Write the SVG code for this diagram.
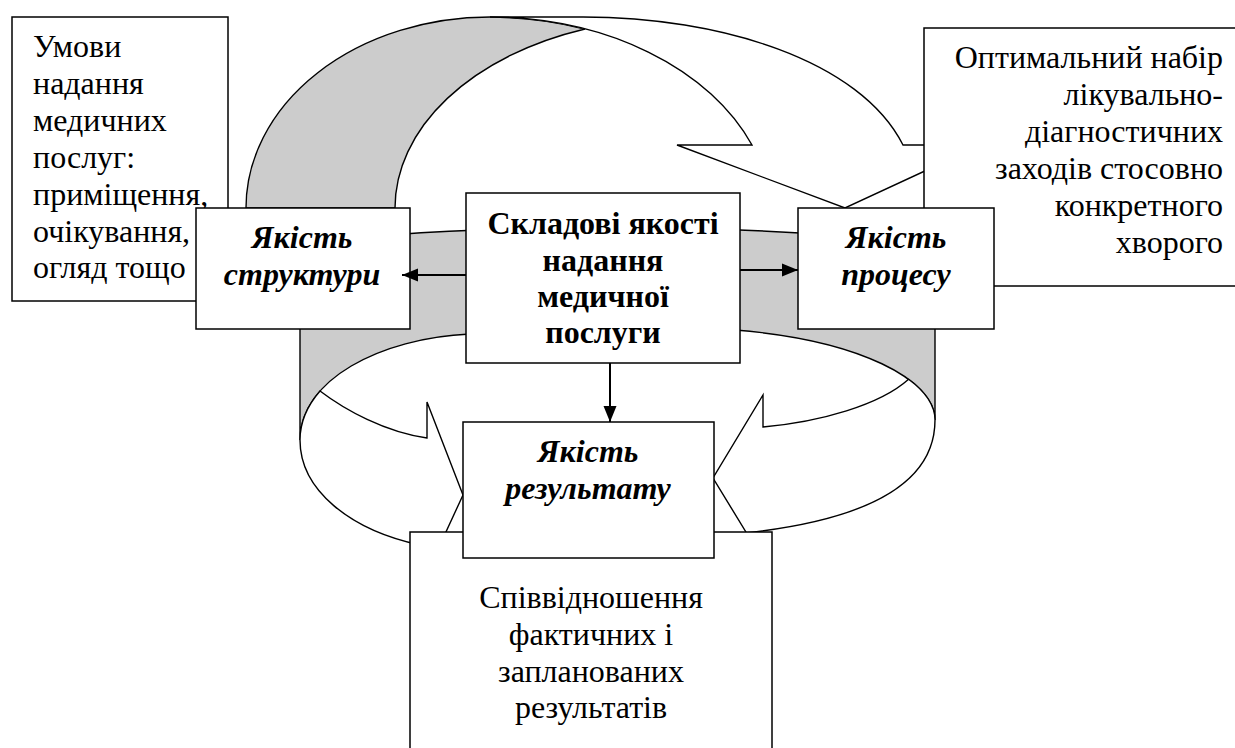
<svg xmlns="http://www.w3.org/2000/svg" width="1235" height="748" viewBox="0 0 1235 748">
<style>
.bg{fill:#fff}
.box{fill:#fff;stroke:#000;stroke-width:1.5}
.sh{stroke:#000;stroke-width:1.4;stroke-linejoin:miter}
.gray{fill:#cccccc}
.white{fill:#fff}
text{font-size:32px;fill:#000}
.c{text-anchor:middle}
.e{text-anchor:end}
.b{font-weight:bold}
.bi{font-weight:bold;font-style:italic}
.conn{stroke:#000;stroke-width:2;fill:none}
</style>
<defs>
<marker id="ah" markerUnits="userSpaceOnUse" markerWidth="16" markerHeight="14" refX="16" refY="7" orient="auto">
<path d="M0,0.5 L16,7 L0,13.5 Z" fill="#000"/>
</marker>
</defs>
<rect class="bg" x="0" y="0" width="1235" height="748"/>

<g id="ring-arrows">
<path class="sh gray" d="M300,440 L300,245 C450,222 755,222 935,245 L935,420 C935,380 860,340 735,330 L470,334 C380,338 300,380 300,440 Z"/>
<path class="sh white" d="M300,440 C300,490 350,530 420,545 L433,560 L463,495 L427,402 L427,438 C385,432 345,410 320,391 C307,406 300,422 300,440 Z"/>
<path class="sh white" d="M935,420 C935,485 865,520 745,533 L763,560 L713,478 L763,395 L763,427 C820,422 880,405 908.6,379.3 C925.8,392 935,406 935,420 Z"/>
</g>

<g id="top-arrow">
<path class="sh gray" d="M246,208 A244,191 0 0 1 490,17 A282,203 0 0 1 585,29 A285,190 0 0 0 395,208 Z"/>
<path class="sh white" d="M490,17 L583,17 C720,17 860,60 903,145 L981,145 L845,208 L677,145 L752,145 A282,203 0 0 0 490,17 Z"/>
</g>

<g font-family="Liberation Serif, Times New Roman, DejaVu Serif, serif">
<g id="conditions">
<rect class="box" x="12" y="17" width="216" height="284"/>
<text x="33" y="57">Умови</text>
<text x="33" y="94">надання</text>
<text x="33" y="131">медичних</text>
<text x="33" y="168">послуг:</text>
<text x="33" y="205">приміщення,</text>
<text x="33" y="242">очікування,</text>
<text x="33" y="278">огляд тощо</text>
</g>

<g id="optimal-set">
<rect class="box" x="924" y="28" width="320" height="258"/>
<text class="e" x="1223" y="68">Оптимальний набір</text>
<text class="e" x="1223" y="105">лікувально-</text>
<text class="e" x="1223" y="142">діагностичних</text>
<text class="e" x="1223" y="179">заходів стосовно</text>
<text class="e" x="1223" y="216">конкретного</text>
<text class="e" x="1223" y="253">хворого</text>
</g>

<g id="structure">
<rect class="box" x="196" y="208" width="214" height="121"/>
<text class="c bi" x="302" y="248">Якість</text>
<text class="c bi" x="302" y="285">структури</text>
</g>

<g id="process">
<rect class="box" x="798" y="208" width="196" height="121"/>
<text class="c bi" x="896" y="248">Якість</text>
<text class="c bi" x="896" y="285">процесу</text>
</g>

<g id="components">
<rect class="box" x="466" y="193" width="274" height="170"/>
<text class="c b" x="603" y="234">Складові якості</text>
<text class="c b" x="603" y="271">надання</text>
<text class="c b" x="603" y="307">медичної</text>
<text class="c b" x="603" y="343">послуги</text>
</g>

<g id="ratio">
<rect class="box" x="410" y="532" width="362" height="230"/>
<text class="c" x="591" y="608">Співвідношення</text>
<text class="c" x="591" y="645">фактичних і</text>
<text class="c" x="591" y="682">запланованих</text>
<text class="c" x="591" y="718">результатів</text>
</g>

<g id="result">
<rect class="box" x="463" y="422" width="251" height="136"/>
<text class="c bi" x="588" y="462">Якість</text>
<text class="c bi" x="588" y="499">результату</text>
</g>
</g>

<g id="connectors">
<line class="conn" x1="466" y1="275" x2="402" y2="275" marker-end="url(#ah)"/>
<line class="conn" x1="740" y1="270" x2="798" y2="270" marker-end="url(#ah)"/>
<line class="conn" x1="610" y1="363" x2="610" y2="422" marker-end="url(#ah)"/>
</g>
</svg>
